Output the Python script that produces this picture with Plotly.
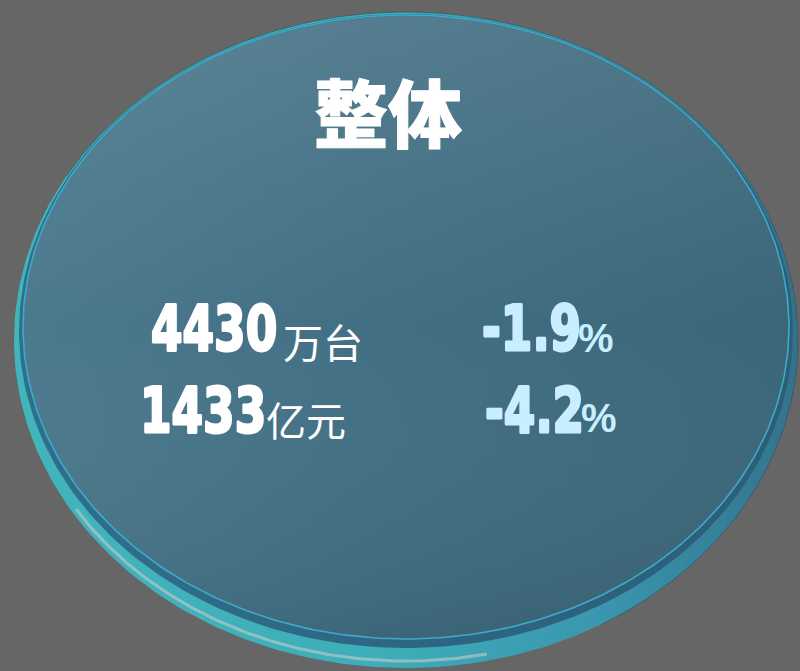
import json
import numpy as np
import plotly.graph_objects as go

# ---- data ----
title = "整体"
values = ["4430", "1433"]
units = ["万台", "亿元"]
changes = ["-1.9", "-4.2"]
pct = "%"

W, H = 800, 671


def ell(cx, cy, rx, ry, t0=0, t1=2 * np.pi, n=361):
    tt = np.linspace(t0, t1, n)
    return cx + rx * np.cos(tt), cy + ry * np.sin(tt)


fig = go.Figure()
nolegend = dict(hoverinfo="skip", showlegend=False)
noline = dict(width=0, color="rgba(0,0,0,0)")

# cylinder side (teal)
x, y = ell(406, 340, 392, 328)
fig.add_trace(go.Scatter(x=x, y=y, mode="lines", fill="toself", line=noline,
                         fillgradient=dict(type="horizontal",
                                           colorscale=[[0, "#42B4BC"], [0.45, "#3EAFBA"], [0.75, "#3A96AE"], [1, "#33728C"]]),
                         **nolegend))
# dark blue band under the face edge
x, y = ell(406, 331, 387, 317)
fig.add_trace(go.Scatter(x=x, y=y, mode="lines", fill="toself", line=noline,
                         fillgradient=dict(type="horizontal",
                                           colorscale=[[0, "#2F6F8C"], [1, "#2C5E78"]]),
                         **nolegend))
# face
x, y = ell(406, 327, 383, 312)
fig.add_trace(go.Scatter(x=x, y=y, mode="lines", fill="toself", line=noline,
                         fillgradient=dict(type="horizontal",
                                           colorscale=[[0, "#4B798D"], [0.45, "#426F84"], [1, "#3A6679"]]),
                         **nolegend))
# vertical overlay (light at top, darker at bottom)
x, y = ell(406, 327, 382, 311)
fig.add_trace(go.Scatter(x=x, y=y, mode="lines", fill="toself", line=noline,
                         fillgradient=dict(type="vertical",
                                           colorscale=[[0, "rgba(0,0,0,0.08)"], [0.5, "rgba(255,255,255,0.0)"],
                                                       [1, "rgba(255,255,255,0.10)"]]),
                         **nolegend))
# face edge: bright cyan thin line
x, y = ell(406, 327, 383, 312)
fig.add_trace(go.Scatter(x=x, y=y, mode="lines", line=dict(width=1.6, color="#3FA9C9"), **nolegend))
# pale streak on rim
x, y = ell(406, 338, 389, 323, np.radians(78), np.radians(148), 120)
fig.add_trace(go.Scatter(x=x, y=y, mode="lines", line=dict(width=3, color="rgba(180,200,198,0.7)"), **nolegend))
# outer dark rim line on the right/top
x, y = ell(406, 340, 392, 328, np.radians(-150), np.radians(60), 200)
fig.add_trace(go.Scatter(x=x, y=y, mode="lines", line=dict(width=1, color="rgba(40,80,100,0.6)"), **nolegend))

num_font = "DejaVu Sans, sans-serif"
cjk_font = "Noto Sans CJK SC, sans-serif"
pct_font = "Liberation Sans, Arial, sans-serif"

ann = [dict(x=388, y=109, text=title, showarrow=False, xanchor="center", yanchor="middle",
            font=dict(family=cjk_font, size=74, color="white", weight=900))]

num_y = [328, 410]
unit_y = [341, 419]
pct_y = [338, 418]
num_x = [149, 138]
unit_x = [281, 264]
chg_x = [480, 483]
pct_x = [576, 579]
for i in range(2):
    ann.append(dict(x=num_x[i], y=num_y[i], text=values[i], showarrow=False, xanchor="left", yanchor="middle",
                    font=dict(family=num_font, size=63, color="white", weight="bold")))
    ann.append(dict(x=unit_x[i], y=unit_y[i], text=units[i], showarrow=False, xanchor="left", yanchor="middle",
                    font=dict(family=cjk_font, size=40, color="white")))
    ann.append(dict(x=chg_x[i], y=num_y[i], text=changes[i], showarrow=False, xanchor="left", yanchor="middle",
                    font=dict(family=num_font, size=63, color="#C8EEFF", weight="bold")))
    ann.append(dict(x=pct_x[i], y=pct_y[i], text=pct, showarrow=False, xanchor="left", yanchor="middle",
                    font=dict(family=pct_font, size=40, color="#C8EEFF", weight="bold")))

fig.update_layout(
    width=W, height=H, margin=dict(l=0, r=0, t=0, b=0),
    paper_bgcolor="#666666", plot_bgcolor="#666666",
    xaxis=dict(range=[0, W], visible=False, fixedrange=True),
    yaxis=dict(range=[H, 0], visible=False, fixedrange=True),
    annotations=ann,
    showlegend=False,
)

post = """
document.body.style.margin='0';
var gd = document.getElementById('{plot_id}');
var TITLE = %s;
function squeeze(){
  gd.querySelectorAll('g.annotation').forEach(function(g){
    var t = g.querySelector('text.annotation-text');
    if(!t) return;
    var col = t.style.fill;
    if(/^[-0-9.]+$/.test(t.textContent)){
      t.removeAttribute('transform');
      var b = t.getBBox();
      var k = 0.72;
      t.setAttribute('transform','translate('+b.x+',0) scale('+k+',1) translate('+(-b.x)+',0)');
      t.style.stroke = col; t.style.strokeWidth = '3px'; t.style.strokeLinejoin = 'round';
    } else if (t.textContent === TITLE) {
      t.style.stroke = col; t.style.strokeWidth = '1px'; t.style.strokeLinejoin = 'round';
    }
  });
}
squeeze();
gd.on('plotly_afterplot', squeeze);
""" % json.dumps(title)
fig.write_html("out.html", config={"displayModeBar": False}, post_script=post)
